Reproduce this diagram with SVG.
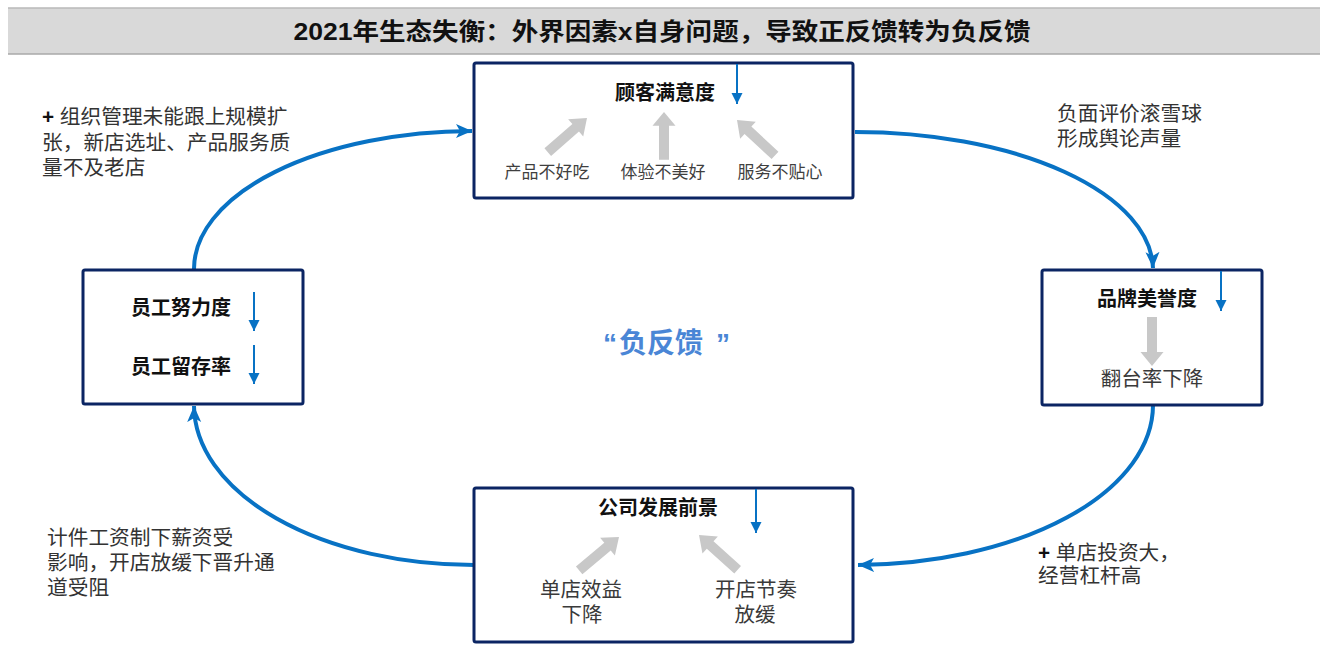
<svg xmlns="http://www.w3.org/2000/svg" xmlns:xlink="http://www.w3.org/1999/xlink" width="1331" height="666" viewBox="0 0 1331 666">
<style>
text{font-family:"Liberation Sans","Noto Sans CJK SC",sans-serif;}
.cjk{font-family:"Noto Sans CJK SC","Liberation Sans",sans-serif;}
.box{fill:#ffffff;stroke:#0b2563;stroke-width:3;}
.ttl{font-size:20px;font-weight:bold;fill:#111111;text-anchor:middle;}
.sub{font-size:17px;fill:#3f3f3f;text-anchor:middle;}
.sub2{font-size:20.5px;fill:#3a3a3a;text-anchor:middle;}
.note{font-size:20.7px;fill:#333333;}
.conn{fill:none;stroke:#0872c4;stroke-width:4;}
.small{stroke:#0872c4;stroke-width:2;fill:none;}
.garrow{fill:#c8c8c8;}
.neg{font-size:28px;font-weight:bold;fill:#4a86d6;}
</style>
<defs>
<marker id="bigHead" markerUnits="userSpaceOnUse" markerWidth="18" markerHeight="18" refX="16" refY="8" orient="auto" viewBox="0 0 18 16">
<path d="M0,1 L16,8 L0,15 L4,8 Z" fill="#0872c4"/>
</marker>
<marker id="smallHead" markerUnits="userSpaceOnUse" markerWidth="12" markerHeight="12" refX="11" refY="5.5" orient="auto" viewBox="0 0 12 11">
<path d="M0,0 L11,5.5 L0,11 Z" fill="#0872c4"/>
</marker>
<path id="grayArrow" d="M0,0 L11.5,15 L5,15 L5,52 L-5,52 L-5,15 L-11.5,15 Z"/>
</defs>

<g id="header">
<rect x="8" y="8" width="1312" height="46" fill="#d9d9d9"/>
<line x1="8" y1="8" x2="1320" y2="8" stroke="#b8b8b8" stroke-width="1.5"/>
<line x1="8" y1="54" x2="1320" y2="54" stroke="#a8a8a8" stroke-width="1.5"/>
<text x="662" y="40" font-size="24" font-weight="bold" fill="#111111" text-anchor="middle" textLength="737" lengthAdjust="spacingAndGlyphs">2021年生态失衡：外界因素x自身问题，导致正反馈转为负反馈</text>
</g>

<g id="connectors">
<path class="conn" d="M855,132 A298,138 0 0 1 1153,268" marker-end="url(#bigHead)"/>
<path class="conn" d="M1153,405 A298,160 0 0 1 858,565" marker-end="url(#bigHead)"/>
<path class="conn" d="M474,565 A280,160 0 0 1 194,406" marker-end="url(#bigHead)"/>
<path class="conn" d="M194,270 A280,138 0 0 1 472,131" marker-end="url(#bigHead)"/>
</g>

<g id="node-customer">
<rect class="box" x="474" y="63" width="379" height="135" rx="2"/>
<text class="ttl" x="665" y="100">顾客满意度</text>
<line class="small" x1="737" y1="64" x2="737" y2="104" marker-end="url(#smallHead)"/>
<use href="#grayArrow" xlink:href="#grayArrow" class="garrow" transform="translate(587,118) rotate(49)"/>
<use href="#grayArrow" xlink:href="#grayArrow" class="garrow" transform="translate(664,112) scale(1,0.92)"/>
<use href="#grayArrow" xlink:href="#grayArrow" class="garrow" transform="translate(737,120) rotate(-47)"/>
<text class="sub" x="547" y="178">产品不好吃</text>
<text class="sub" x="663" y="178">体验不美好</text>
<text class="sub" x="780" y="178">服务不贴心</text>
</g>

<g id="node-brand">
<rect class="box" x="1042" y="270" width="220" height="135" rx="2"/>
<text class="ttl" x="1147" y="306">品牌美誉度</text>
<line class="small" x1="1221" y1="271" x2="1221" y2="311" marker-end="url(#smallHead)"/>
<use href="#grayArrow" xlink:href="#grayArrow" class="garrow" transform="translate(1152,366) rotate(180) scale(1,0.94)"/>
<text class="sub2" x="1152" y="386">翻台率下降</text>
</g>

<g id="node-company">
<rect class="box" x="474" y="488" width="379" height="154" rx="2"/>
<text class="ttl" x="658" y="515">公司发展前景</text>
<line class="small" x1="756" y1="489" x2="756" y2="533" marker-end="url(#smallHead)"/>
<use href="#grayArrow" xlink:href="#grayArrow" class="garrow" transform="translate(619,537) rotate(50)"/>
<use href="#grayArrow" xlink:href="#grayArrow" class="garrow" transform="translate(699,535) rotate(-48)"/>
<text class="sub2" x="581" y="597" font-size="21">单店效益</text>
<text class="sub2" x="582" y="622" font-size="21">下降</text>
<text class="sub2" x="756" y="597" font-size="21">开店节奏</text>
<text class="sub2" x="755" y="622" font-size="21">放缓</text>
</g>

<g id="node-staff">
<rect class="box" x="83" y="270" width="220" height="134" rx="2"/>
<text class="ttl" x="181" y="315" font-size="21">员工努力度</text>
<text class="ttl" x="181" y="374" font-size="21">员工留存率</text>
<line class="small" x1="254" y1="292" x2="254" y2="331" marker-end="url(#smallHead)"/>
<line class="small" x1="254" y1="345" x2="254" y2="384" marker-end="url(#smallHead)"/>
</g>

<g id="labels">
<text class="note" x="1057" y="121">负面评价滚雪球</text>
<text class="note" x="1057" y="146">形成舆论声量</text>
<text class="note" x="1038" y="560"><tspan font-weight="bold" fill="#111">+</tspan> 单店投资大，</text>
<text class="note" x="1038" y="583">经营杠杆高</text>
<text class="note" x="42" y="124"><tspan font-weight="bold" fill="#111">+</tspan> 组织管理未能跟上规模扩</text>
<text class="note" x="42" y="150">张，新店选址、产品服务质</text>
<text class="note" x="42" y="175">量不及老店</text>
<text class="note" x="47" y="545">计件工资制下薪资受</text>
<text class="note" x="47" y="570">影响，开店放缓下晋升通</text>
<text class="note" x="47" y="595">道受阻</text>
<text class="neg" y="353"><tspan x="603">“</tspan><tspan class="cjk" x="619">负反馈</tspan><tspan x="716">”</tspan></text>
</g>
</svg>
